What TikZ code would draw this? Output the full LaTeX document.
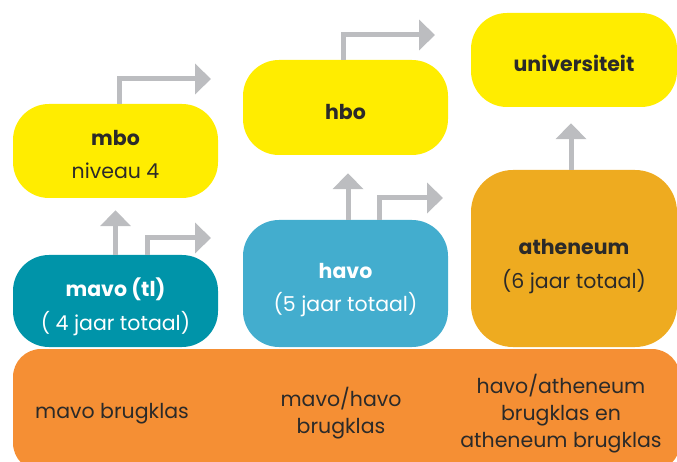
\documentclass[tikz,border=0pt]{standalone}
\usepackage{fontspec}
\setmainfont{Poppins}
\usetikzlibrary{arrows.meta}
\definecolor{geel}{HTML}{FFED00}
\definecolor{petrol}{HTML}{0094A9}
\definecolor{lichtblauw}{HTML}{43ADCE}
\definecolor{oker}{HTML}{EEAB20}
\definecolor{oranje}{HTML}{F58F34}
\definecolor{grijs}{HTML}{BCBDC0}
\definecolor{tekst}{HTML}{2B2A29}

\begin{document}
\begin{tikzpicture}[x=1pt, y=-1pt,
    blok/.style={rounded corners=36pt, minimum width=205pt, align=center, text=tekst, inner sep=0pt,
        font=\fontsize{20.5}{33}\selectfont},
    brug/.style={align=center, text=tekst, font=\fontsize{20.5}{27}\selectfont},
    pijl/.style={draw=grijs, line width=5pt, -{Triangle[width=30pt, length=16pt]}}]
    \useasboundingbox (0,0) rectangle (677,462);

    \node [fill=oranje, rounded corners=28pt, minimum width=667pt, minimum height=122pt] (basis) at (346.5,410) {};
    \node [brug] (brugmavo) at (112,414) {mavo brugklas};
    \node [brug] (brughavo) at (341,413) {mavo/havo\\brugklas};
    \node [brug] (brugathe) at (561,414) {havo/atheneum\\brugklas en\\atheneum brugklas};

    \node [blok, fill=petrol, text=white, minimum height=92pt, text height=58pt, text depth=0pt] (mavo) at (115.5,301) {\textbf{mavo (tl)}\\( 4 jaar totaal)};
    \node [blok, fill=lichtblauw, text=white, minimum height=127pt, text height=57pt, text depth=0pt] (havo) at (345.5,283.5) {\textbf{havo}\\(5 jaar totaal)};
    \node [blok, fill=oker, minimum width=206pt, minimum height=177pt, rounded corners=42pt, text height=59pt, text depth=0pt] (athe) at (574,258.5) {\textbf{atheneum}\\(6 jaar totaal)};

    \node [blok, fill=geel, minimum height=94pt, text height=56pt, text depth=0pt] (mbo) at (115.5,151) {\textbf{mbo}\\niveau 4};
    \node [blok, fill=geel, minimum height=95pt, text height=24pt] (hbo) at (345.5,107.5) {\textbf{hbo}};
    \node [blok, fill=geel, minimum width=206pt, minimum height=94pt, text height=23pt] (uni) at (574,60) {\textbf{universiteit}};

    \coordinate (mbouit) at (211,79);
    \coordinate (hbouit) at (435,35);
    \coordinate (mavouit) at (211,238);
    \coordinate (havouit) at (443,198);

    \draw [pijl, shorten >=12pt] (mavo.north) -- (mbo.south);
    \draw [pijl] ([xshift=31.5pt]mavo.north) |- (mavouit);
    \draw [pijl, shorten >=18pt] ([xshift=2.5pt]havo.north) -- ([xshift=2.5pt]hbo.south);
    \draw [pijl] ([xshift=33.5pt]havo.north) |- (havouit);
    \draw [pijl, shorten >=16pt] ([xshift=-3pt]athe.north) -- ([xshift=-3pt]uni.south);
    \draw [pijl] ([xshift=3.5pt]mbo.north) |- (mbouit);
    \draw [pijl] ([xshift=-2.5pt]hbo.north) |- (hbouit);
\end{tikzpicture}
\end{document}
